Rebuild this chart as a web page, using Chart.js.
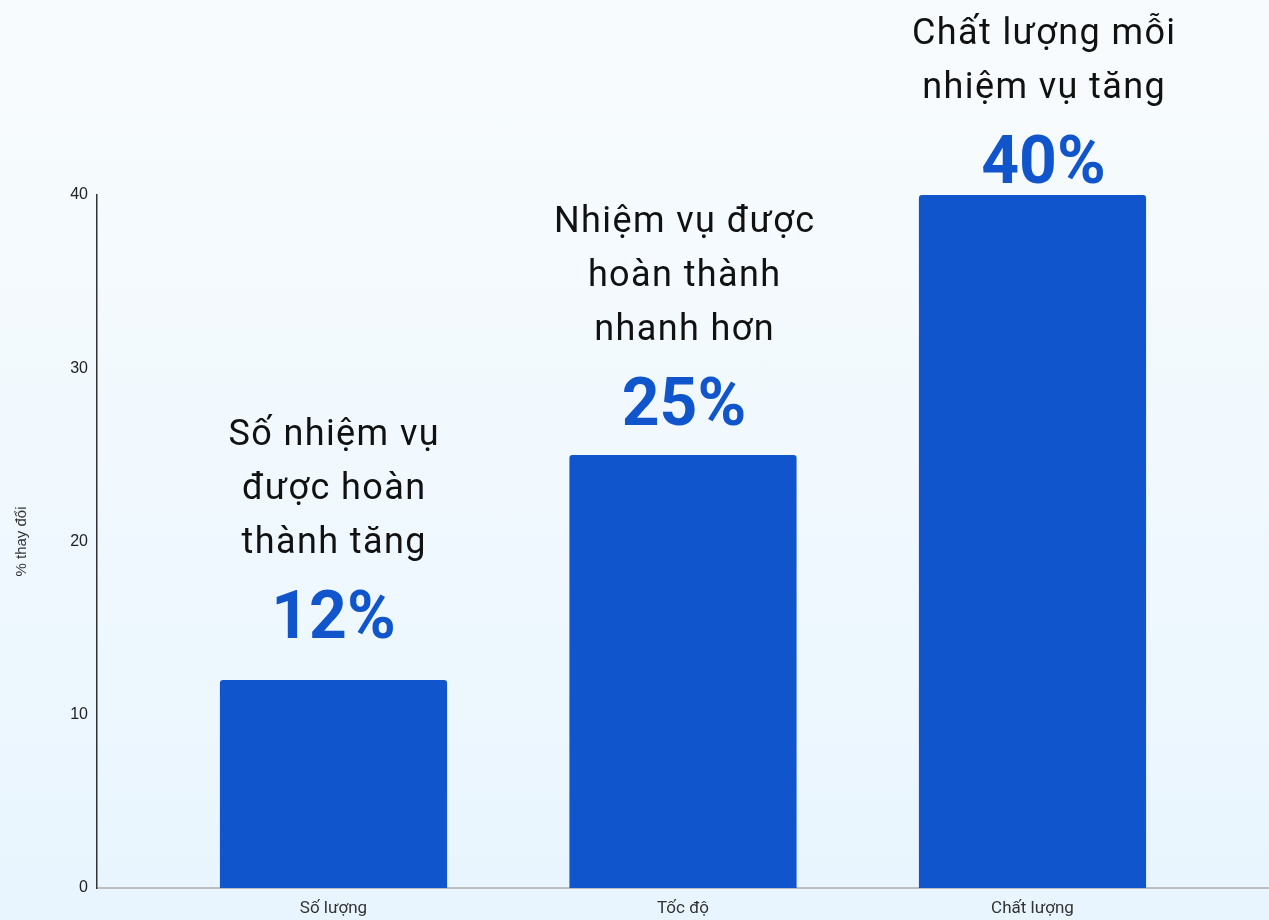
<!DOCTYPE html>
<html lang="vi">
<head>
    <meta charset="UTF-8">
    <title>% thay đổi</title>
    <style>
        html, body { margin: 0; padding: 0; }
        body {
            width: 1269px;
            height: 920px;
            overflow: hidden;
            background: linear-gradient(to bottom, #f8fbfd 0%, #f1f9fe 50%, #e8f5fe 100%);
            font-family: 'Roboto', sans-serif;
        }
        .chart-box { position: relative; width: 1269px; height: 920px; }
    </style>
</head>
<body>

<div class="chart-box"><canvas id="changeChart"></canvas></div>

<script src="https://cdn.jsdelivr.net/npm/chart.js"></script>
<script>
    // Data
    const categories = ['Số lượng', 'Tốc độ', 'Chất lượng'];
    const changeValues = [12, 25, 40];
    const yTicks = [0, 10, 20, 30, 40];
    const captions = [
        ['Số nhiệm vụ', 'được hoàn', 'thành tăng'],
        ['Nhiệm vụ được', 'hoàn thành', 'nhanh hơn'],
        ['Chất lượng mỗi', 'nhiệm vụ tăng']
    ];
    const percentLabels = ['12%', '25%', '40%'];

    const BLUE = '#1155cc';

    // draws the caption + big percentage above each bar
    const captionPlugin = {
        id: 'captions',
        afterDatasetsDraw(chart, args, opts) {
            const ctx = chart.ctx;
            const bars = chart.getDatasetMeta(0).data;
            ctx.save();
            ctx.textAlign = 'center';
            ctx.textBaseline = 'alphabetic';
            bars.forEach((bar, i) => {
                const cx = bar.x + opts.shiftX[i];
                const pctBase = bar.y - opts.gap[i];
                ctx.fillStyle = BLUE;
                ctx.font = 'bold 66px Roboto';
                ctx.letterSpacing = '0px';
                ctx.fillText(percentLabels[i], cx, pctBase);

                ctx.fillStyle = '#111111';
                ctx.font = '36px Roboto';
                ctx.letterSpacing = '1.4px';
                const lines = captions[i];
                let base = pctBase - 85;
                for (let k = lines.length - 1; k >= 0; k--) {
                    ctx.fillText(lines[k], cx + 0.7, base);
                    base -= 54;
                }
            });
            ctx.restore();
        }
    };

    const ctx = document.getElementById('changeChart').getContext('2d');
    new Chart(ctx, {
        type: 'bar',
        data: {
            datasets: [{
                label: '% thay đổi',
                data: changeValues.map((v, i) => ({ x: i, y: v })),
                backgroundColor: BLUE,
                borderRadius: 3,
                borderSkipped: 'bottom',
                barPercentage: 0.65,
                categoryPercentage: 1
            }]
        },
        options: {
            responsive: true,
            maintainAspectRatio: false,
            animation: false,
            layout: { padding: { top: 195, right: 0, bottom: 0, left: 0 } },
            plugins: {
                legend: { display: false },
                tooltip: { enabled: false },
                captions: {
                    gap: [42, 30, 12],
                    shiftX: [0, 1, 11]
                }
            },
            scales: {
                x: {
                    type: 'linear',
                    offset: false,
                    min: -0.6767,
                    max: 2.6767,
                    grid: { display: false, drawTicks: false, offset: false },
                    border: { display: true, color: '#bdbdbd', width: 2 },
                    afterBuildTicks: (scale) => {
                        scale.ticks = categories.map((c, i) => ({ value: i }));
                    },
                    afterFit: (scale) => { scale.height = 32; },
                    ticks: {
                        padding: 11,
                        autoSkip: false,
                        maxRotation: 0,
                        color: '#333333',
                        font: { family: 'Roboto', size: 17 },
                        callback: (v) => categories[v]
                    }
                },
                y: {
                    min: 0,
                    max: 40,
                    grid: { display: false, drawTicks: false },
                    border: { display: true, color: '#333333', width: 1.5 },
                    afterBuildTicks: (scale) => {
                        scale.ticks = yTicks.map(v => ({ value: v }));
                    },
                    afterFit: (scale) => { scale.width = 97; },
                    ticks: {
                        padding: 9,
                        color: '#222222',
                        font: { family: 'Liberation Sans', size: 16 }
                    },
                    title: {
                        display: true,
                        text: '% thay đổi',
                        color: '#333333',
                        padding: { top: 13, bottom: 0 },
                        font: { family: 'Liberation Sans', size: 15 }
                    }
                }
            }
        },
        plugins: [captionPlugin]
    });
</script>

</body>
</html>
